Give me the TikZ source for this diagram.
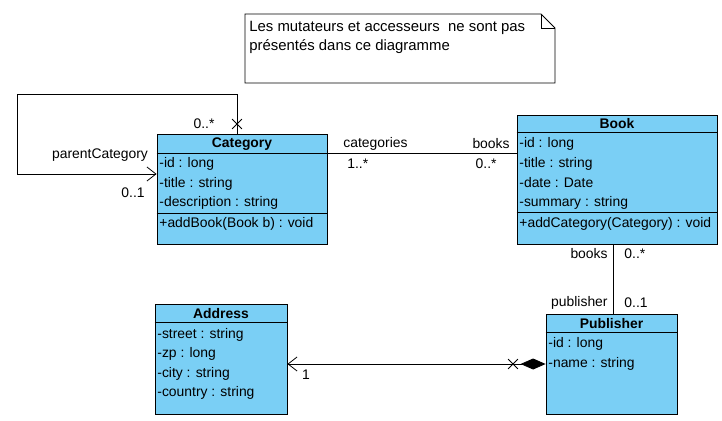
\documentclass[tikz,border=0pt]{standalone}
\usepackage{fontspec}
\setmainfont{Liberation Sans}
\usetikzlibrary{arrows.meta, shapes.misc}
\definecolor{umlblue}{RGB}{122,207,245}

\begin{document}
\begin{tikzpicture}[x=1pt, y=-1pt, line width=0.8pt,
    every node/.style={font=\fontsize{13.9}{16}\selectfont, inner sep=0pt},
    classbox/.style={draw, fill=umlblue, rectangle},
    ctitle/.style={font=\fontsize{13.9}{16}\selectfont\bfseries},
    cattr/.style={anchor=west},
    croix/.style={draw, cross out, minimum size=9pt},
    nav/.style={-{Straight Barb[length=9pt,width=14pt]}}]
  \useasboundingbox (0,0) rectangle (722,420);

  % Note
  \draw (245,14) -- (541,14) -- (555,28) -- (555,83) -- (245,83) -- cycle;
  \draw (541,14) |- (555,28);
  \node[anchor=west, font=\fontsize{14.9}{17}\selectfont] (note1) at (249,28) {Les mutateurs et accesseurs \ ne sont pas};
  \node[anchor=west, font=\fontsize{14.9}{17}\selectfont] (note2) at (249,47) {présentés dans ce diagramme};

  % Category
  \node[classbox, minimum width=170, minimum height=110] (cat) at (242,189) {};
  \draw (cat.north west) ++(0,20) -- ++(170,0);
  \draw (cat.north west) ++(0,80) -- ++(170,0);
  \node[ctitle] (catT) at (242,144) {Category};
  \node[cattr] (cat1) at (159,164) {-id : long};
  \node[cattr] (cat2) at (159,184) {-title : string};
  \node[cattr] (cat3) at (159,203) {-description : string};
  \node[cattr] (cat4) at (159,224) {+addBook(Book b) : void};

  % Book
  \node[classbox, minimum width=200, minimum height=129] (book) at (617,179.5) {};
  \draw (book.north west) ++(0,18) -- ++(200,0);
  \draw (book.north west) ++(0,98) -- ++(200,0);
  \node[ctitle] (bookT) at (617,124) {Book};
  \node[cattr] (book1) at (519,144) {-id : long};
  \node[cattr] (book2) at (519,164) {-title : string};
  \node[cattr] (book3) at (519,183) {-date : Date};
  \node[cattr] (book4) at (519,203) {-summary : string};
  \node[cattr] (book5) at (519,224) {+addCategory(Category) : void};

  % Address
  \node[classbox, minimum width=132, minimum height=110] (addr) at (221,359) {};
  \draw (addr.north west) ++(0,19) -- ++(132,0);
  \node[ctitle] (addrT) at (221,314) {Address};
  \node[cattr] (addr1) at (157,335) {-street : string};
  \node[cattr] (addr2) at (157,354) {-zp : long};
  \node[cattr] (addr3) at (157,374) {-city : string};
  \node[cattr] (addr4) at (157,393) {-country : string};

  % Publisher
  \node[classbox, minimum width=131, minimum height=100] (pub) at (611.5,364) {};
  \draw (pub.north west) ++(0,19) -- ++(131,0);
  \node[ctitle] (pubT) at (611.5,324) {Publisher};
  \node[cattr] (pub1) at (548,344) {-id : long};
  \node[cattr] (pub2) at (548,364) {-name : string};

  % Collegamenti
  \coordinate (loopA) at (237,94);
  \coordinate (loopB) at (17,174);
  \draw[nav] (cat.north west -| loopA) -- (loopA) -- (loopB |- loopA) -- (loopB) -- (loopB -| cat.west);
  \node[croix] (x1) at (237,124) {};
  \node (l1) at (204,124) {0..*};
  \node (l2) at (100,155) {parentCategory};
  \node (l3) at (133,193) {0..1};

  \coordinate (cb) at ([yshift=-20pt]cat.north east);
  \draw (cb) -- (cb -| book.west);
  \node[anchor=west] (l4) at (343,144) {categories};
  \node[anchor=west] (l5) at (347,164) {1..*};
  \node[anchor=east] (l6) at (510,144) {books};
  \node[anchor=east] (l7) at (497,164) {0..*};

  \coordinate (bp) at (613,0);
  \draw (book.south -| bp) -- (pub.north -| bp);
  \node[anchor=east] (l8) at (608,254) {books};
  \node[anchor=west] (l9) at (624,254) {0..*};
  \node[anchor=east] (l10) at (608,303) {publisher};
  \node[anchor=west] (l11) at (624,303) {0..1};

  \draw[{Diamond[length=25pt,width=11pt]}-{Straight Barb[length=9pt,width=14pt]}] (pub.west) -- (pub.west -| addr.east);
  \node[croix] (x2) at (513,364) {};
  \node (l12) at (306,375) {1};
\end{tikzpicture}
\end{document}
